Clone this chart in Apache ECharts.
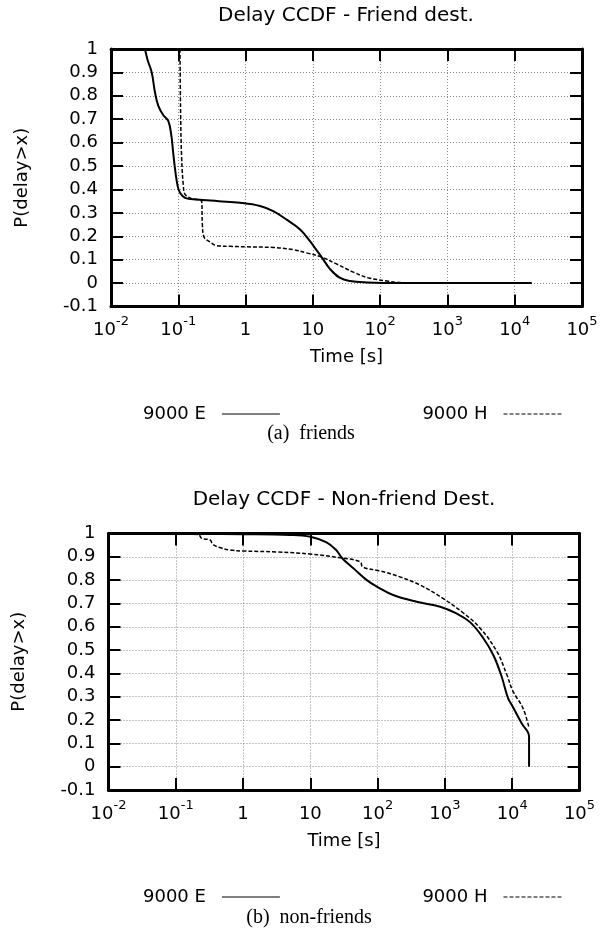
<!DOCTYPE html>
<html lang="en">
<head>
  <meta charset="UTF-8">
  <title>Delay CCDF</title>
  <script src="https://cdn.jsdelivr.net/npm/echarts@6/dist/echarts.min.js"></script>
  <style>html, body { margin: 0; padding: 0; background: #fff; }</style>
</head>
<body>
  <div id="main" style="width:601px;height:936px;"></div>
  <script>
    // time [s] and P(delay>x)
    // (a) friends
    var friendTimeE = [0.032, 0.035, 0.0403, 0.0451, 0.0505, 0.060, 0.071, 0.079, 0.084, 0.091, 0.098, 0.106, 0.126, 0.187, 0.40, 0.83, 1.64, 2.57, 4.07, 6.46, 9.06, 11.4, 13.5, 17.9, 25, 35.5, 63, 200, 17800];
    var friendProbE = [1, 0.953, 0.90, 0.814, 0.757, 0.717, 0.693, 0.629, 0.557, 0.471, 0.414, 0.386, 0.364, 0.357, 0.350, 0.343, 0.329, 0.307, 0.271, 0.229, 0.179, 0.14, 0.111, 0.061, 0.023, 0.009, 0.003, 0, 0];
    var friendTimeH = [0.106, 0.108, 0.112, 0.119, 0.126, 0.149, 0.20, 0.223, 0.228, 0.241, 0.295, 0.37, 0.59, 1.0, 2.6, 5.1, 8.1, 13.5, 22, 40, 66, 126, 200, 17800];
    var friendProbH = [1, 0.75, 0.54, 0.414, 0.379, 0.364, 0.355, 0.350, 0.25, 0.197, 0.176, 0.16, 0.157, 0.155, 0.152, 0.143, 0.129, 0.111, 0.083, 0.047, 0.023, 0.009, 0.002, 0];

    // (b) non-friends
    var nonTimeE = [0.1, 1, 5, 10, 17.4, 24, 30, 44, 69, 102, 170, 380, 850, 1480, 2340, 3700, 5250, 6900, 8700, 10200, 13800, 17800, 17800];
    var nonProbE = [0.998, 0.997, 0.994, 0.986, 0.962, 0.93, 0.893, 0.85, 0.80, 0.769, 0.736, 0.707, 0.686, 0.657, 0.621, 0.552, 0.478, 0.39, 0.293, 0.257, 0.186, 0.129, 0];
    var nonTimeH = [0.1, 0.216, 0.243, 0.324, 0.355, 0.45, 0.64, 1, 3.2, 10, 26, 55, 60, 107, 214, 427, 933, 1860, 3310, 5890, 8300, 10200, 14500, 17800];
    var nonProbH = [0.998, 0.996, 0.979, 0.972, 0.954, 0.94, 0.929, 0.925, 0.921, 0.912, 0.897, 0.879, 0.856, 0.84, 0.814, 0.779, 0.722, 0.66, 0.595, 0.495, 0.395, 0.325, 0.25, 0.165];

    // x tick labels, indexed by exponent + 2
    var xTickLabels = ['{b|10}{s|-2}', '{b|10}{s|-1}', '{b|1}', '{b|10}', '{b|10}{s|2}', '{b|10}{s|3}', '{b|10}{s|4}', '{b|10}{s|5}'];
    var seriesNames = ['9000 E', '9000 H'];
    var titles = ['Delay CCDF - Friend dest.', 'Delay CCDF - Non-friend Dest.'];
    var captions = ['(a)  friends', '(b)  non-friends'];

    var FONT = 'DejaVu Sans';

    function pairs(t, p) {
      return t.map(function (x, i) { return [x, p[i]]; });
    }

    // the frame is drawn by the axis lines of all four axes
    function xAxisFor(grid, mirror) {
      return {
        type: 'log', logBase: 10, min: 0.01, max: 100000,
        gridIndex: grid,
        position: mirror ? 'top' : 'bottom',
        name: mirror ? '' : 'Time [s]',
        nameLocation: 'middle', nameGap: 42,
        nameTextStyle: { fontFamily: FONT, fontSize: 18, color: '#000' },
        axisLine: { show: true, onZero: false, lineStyle: { color: '#000', width: 3 } },
        axisTick: { show: true, inside: true, length: 12, lineStyle: { color: '#000', width: 2 } },
        axisLabel: {
          show: !mirror, margin: 9, fontFamily: FONT, fontSize: 18, color: '#000',
          formatter: function (v) { return xTickLabels[Math.round(Math.log10(v)) + 2]; },
          rich: {
            b: { fontFamily: FONT, fontSize: 18, lineHeight: 24, verticalAlign: 'bottom', color: '#000' },
            s: { fontFamily: FONT, fontSize: 13, lineHeight: 13, verticalAlign: 'top', color: '#000' }
          }
        },
        splitLine: { show: !mirror, lineStyle: { color: '#888', type: [1, 2], width: 1 } }
      };
    }

    function yAxisFor(grid, mirror) {
      return {
        type: 'value', min: -0.1, max: 1, interval: 0.1,
        gridIndex: grid,
        position: mirror ? 'right' : 'left',
        name: mirror ? '' : 'P(delay>x)',
        nameLocation: 'middle', nameGap: 80, nameRotate: 90,
        nameTextStyle: { fontFamily: FONT, fontSize: 18, color: '#000' },
        axisLine: { show: true, onZero: false, lineStyle: { color: '#000', width: 3 } },
        axisTick: { show: true, inside: true, length: 12, lineStyle: { color: '#000', width: 2 } },
        axisLabel: {
          show: !mirror, margin: 13, fontFamily: FONT, fontSize: 18, color: '#000',
          formatter: function (v) { return String(+v.toFixed(1)); }
        },
        splitLine: { show: !mirror, lineStyle: { color: '#888', type: [1, 2], width: 1 } }
      };
    }

    function lineSeries(name, x, y, data, dashed) {
      return {
        name: name, type: 'line', xAxisIndex: x, yAxisIndex: y,
        data: data, symbol: 'none', smooth: 0.4,
        lineStyle: dashed ? { color: '#000', width: 1.5, type: [4, 2] } : { color: '#000', width: 2 },
        itemStyle: { color: '#000' }
      };
    }

    function legendAt(top) {
      return {
        data: seriesNames, left: 138, top: top, align: 'right',
        itemWidth: 58, itemHeight: 14, itemGap: 142, selectedMode: false,
        lineStyle: { width: 1 },
        itemStyle: { opacity: 0 },   // hide the default circle marker
        textStyle: { fontFamily: FONT, fontSize: 18, color: '#000', padding: [0, 11, 0, 0] }
      };
    }

    function label(text, x, y, font) {
      return {
        type: 'text', x: x, y: y,
        style: { text: text, font: font, fill: '#000', align: 'center', verticalAlign: 'middle' }
      };
    }

    var myChart = echarts.init(document.getElementById('main'));

    var option = {
      backgroundColor: '#fff',
      animation: false,
      grid: [
        { left: 111, right: 19, top: 49, height: 257.5 },
        { left: 108.5, right: 21.5, top: 533.5, height: 256.5 }
      ],
      xAxis: [xAxisFor(0, false), xAxisFor(0, true), xAxisFor(1, false), xAxisFor(1, true)],
      yAxis: [yAxisFor(0, false), yAxisFor(0, true), yAxisFor(1, false), yAxisFor(1, true)],
      legend: [legendAt(400), legendAt(883)],
      graphic: [
        label(titles[0], 346, 16, '20px "DejaVu Sans"'),
        label(titles[1], 344, 500, '20px "DejaVu Sans"'),
        label(captions[0], 311, 434, '20px "Liberation Serif"'),
        label(captions[1], 309, 918, '20px "Liberation Serif"')
      ],
      series: [
        lineSeries(seriesNames[0], 0, 0, pairs(friendTimeE, friendProbE), false),
        lineSeries(seriesNames[1], 0, 0, pairs(friendTimeH, friendProbH), true),
        lineSeries(seriesNames[0], 2, 2, pairs(nonTimeE, nonProbE), false),
        lineSeries(seriesNames[1], 2, 2, pairs(nonTimeH, nonProbH), true)
      ]
    };

    myChart.setOption(option);
  </script>
</body>
</html>
